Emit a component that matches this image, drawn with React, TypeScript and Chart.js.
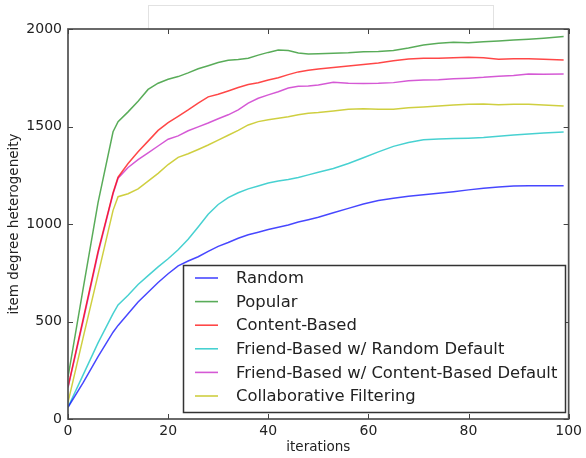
import React, { useEffect, useRef } from "react";
import Chart from "chart.js/auto";

const iterations = [0, 3, 6, 9, 10, 12, 14, 16, 18, 20, 22, 24, 26, 28, 30, 32, 34, 36, 38, 40, 42, 44, 46, 48, 50, 53, 56, 59, 62, 65, 68, 71, 74, 77, 80, 83, 86, 89, 92, 95, 99];

const randomVals = [60, 185, 320, 445, 480, 540, 600, 650, 700, 745, 785, 810, 832, 860, 885, 905, 927, 945, 958, 972, 983, 995, 1010, 1022, 1035, 1058, 1080, 1103, 1120, 1132, 1142, 1150, 1158, 1166, 1175, 1183, 1190, 1195, 1196, 1196, 1196];
const popularVals = [215, 665, 1110, 1473, 1525, 1575, 1630, 1690, 1722, 1742, 1756, 1775, 1796, 1812, 1828, 1840, 1843, 1850, 1866, 1880, 1892, 1890, 1877, 1872, 1873, 1876, 1878, 1883, 1885, 1890, 1903, 1918, 1927, 1932, 1930, 1934, 1939, 1944, 1948, 1953, 1961];
const contentVals = [165, 510, 860, 1160, 1240, 1310, 1370, 1425, 1480, 1520, 1552, 1585, 1620, 1652, 1665, 1682, 1700, 1715, 1724, 1738, 1750, 1766, 1780, 1788, 1795, 1803, 1810, 1818, 1826, 1837, 1846, 1850, 1850, 1852, 1855, 1852, 1845, 1848, 1847, 1845, 1841];
const friendRandomVals = [60, 225, 390, 540, 585, 635, 690, 735, 780, 822, 868, 922, 985, 1050, 1100, 1135, 1160, 1180, 1195, 1210, 1220, 1228, 1238, 1252, 1265, 1285, 1310, 1340, 1370, 1398, 1418, 1432, 1436, 1438, 1440, 1443, 1450, 1457, 1462, 1467, 1472];
const friendContentVals = [160, 500, 850, 1155, 1235, 1290, 1330, 1365, 1400, 1435, 1452, 1478, 1498, 1518, 1540, 1560, 1585, 1620, 1645, 1662, 1678, 1697, 1706, 1708, 1713, 1727, 1722, 1721, 1722, 1725, 1735, 1738, 1740, 1745, 1748, 1752, 1758, 1762, 1769, 1768, 1769];
const collabVals = [85, 415, 740, 1070, 1140, 1155, 1180, 1220, 1260, 1305, 1342, 1360, 1382, 1405, 1430, 1455, 1480, 1508, 1525, 1535, 1542, 1550, 1560, 1568, 1572, 1580, 1588, 1591, 1588, 1588, 1596, 1600, 1605, 1610, 1614, 1615, 1612, 1614, 1614, 1610, 1605];

const seriesLabels = [
  "Random",
  "Popular",
  "Content-Based",
  "Friend-Based w/ Random Default",
  "Friend-Based w/ Content-Based Default",
  "Collaborative Filtering",
];
const seriesValues = [randomVals, popularVals, contentVals, friendRandomVals, friendContentVals, collabVals];
const seriesColors = [
  "rgba(0,0,255,0.72)",
  "rgba(0,128,0,0.65)",
  "rgba(255,0,0,0.72)",
  "rgba(0,191,191,0.72)",
  "rgba(191,0,191,0.65)",
  "rgba(191,191,0,0.75)",
];

const xTicks = [0, 20, 40, 60, 80, 100];
const yTicks = [0, 500, 1000, 1500, 2000];

const FONT = "'DejaVu Sans', sans-serif";

const framePlugin = {
  id: "framePlugin",
  beforeDraw(chart: any) {
    const ctx = chart.ctx;
    ctx.save();
    ctx.fillStyle = "#ffffff";
    ctx.fillRect(0, 0, chart.width, chart.height);
    ctx.strokeStyle = "#e2e2e2";
    ctx.lineWidth = 1;
    ctx.strokeRect(148.5, 5.5, 345, 24);
    ctx.restore();
  },
  afterDatasetsDraw(chart: any) {
    const ctx = chart.ctx;
    const a = chart.chartArea;
    const xs = chart.scales.x;
    const ys = chart.scales.y;
    ctx.save();
    // frame
    ctx.strokeStyle = "#505050";
    ctx.lineWidth = 1.7;
    ctx.strokeRect(a.left, a.top, a.right - a.left, a.bottom - a.top);
    // inward ticks
    ctx.lineWidth = 1;
    ctx.strokeStyle = "#444444";
    ctx.beginPath();
    for (const t of xTicks) {
      const px = Math.round(xs.getPixelForValue(t)) + 0.5;
      ctx.moveTo(px, a.bottom);
      ctx.lineTo(px, a.bottom - 5);
      ctx.moveTo(px, a.top);
      ctx.lineTo(px, a.top + 5);
    }
    for (const t of yTicks) {
      const py = Math.round(ys.getPixelForValue(t)) + 0.5;
      ctx.moveTo(a.left, py);
      ctx.lineTo(a.left + 5, py);
      ctx.moveTo(a.right, py);
      ctx.lineTo(a.right - 5, py);
    }
    ctx.stroke();

    // legend
    const lx = 183.5, ly = 265.5, lw = 382, lh = 147;
    ctx.fillStyle = "#ffffff";
    ctx.fillRect(lx, ly, lw, lh);
    ctx.strokeStyle = "#333333";
    ctx.lineWidth = 1.5;
    ctx.strokeRect(lx, ly, lw, lh);
    ctx.font = `16.4px ${FONT}`;
    ctx.textBaseline = "middle";
    ctx.textAlign = "left";
    chart.data.datasets.forEach((ds: any, i: number) => {
      const y = 278 + i * 23.6;
      ctx.strokeStyle = ds.borderColor;
      ctx.lineWidth = 1.6;
      ctx.beginPath();
      ctx.moveTo(195, y);
      ctx.lineTo(218, y);
      ctx.stroke();
      ctx.fillStyle = "#222222";
      ctx.fillText(ds.label, 236, y + 1);
    });
    ctx.restore();
  },
};

export default function App() {
  const canvasRef = useRef<HTMLCanvasElement | null>(null);

  useEffect(() => {
    document.body.style.margin = "0";
    const canvas = canvasRef.current;
    if (!canvas) return;
    const chart = new Chart(canvas, {
      type: "line",
      data: {
        datasets: seriesLabels.map((label, i) => ({
          label,
          data: iterations.map((x, j) => ({ x, y: seriesValues[i][j] })),
          borderColor: seriesColors[i],
          backgroundColor: seriesColors[i],
          borderWidth: 1.5,
          pointRadius: 0,
          tension: 0,
          fill: false,
        })),
      },
      options: {
        responsive: false,
        animation: false,
        events: [],
        layout: { padding: { left: 0, right: 13, top: 29, bottom: 0 } },
        plugins: {
          legend: { display: false },
          tooltip: { enabled: false },
          title: { display: false },
        },
        scales: {
          x: {
            type: "linear",
            min: 0,
            max: 100,
            grid: { display: false, drawTicks: false },
            border: { display: false },
            ticks: {
              stepSize: 20,
              padding: 4,
              color: "#222222",
              font: { family: FONT, size: 14 },
              callback: (v: any) => String(v),
            },
            title: {
              display: true,
              text: "iterations",
              color: "#222222",
              font: { family: FONT, size: 13.5 },
              padding: { top: 0, bottom: 2 },
            },
            afterFit: (s: any) => {
              s.height = 39;
            },
          },
          y: {
            type: "linear",
            min: 0,
            max: 2000,
            grid: { display: false, drawTicks: false },
            border: { display: false },
            ticks: {
              stepSize: 500,
              padding: 6,
              color: "#222222",
              font: { family: FONT, size: 14 },
              callback: (v: any) => String(v),
            },
            title: {
              display: true,
              text: "item degree heterogeneity",
              color: "#222222",
              font: { family: FONT, size: 13.5 },
              padding: { top: 6, bottom: 0 },
            },
            afterFit: (s: any) => {
              s.width = 68;
            },
          },
        },
      },
      plugins: [framePlugin],
    });
    return () => chart.destroy();
  }, []);

  return (
    <div style={{ position: "absolute", left: 0, top: 0, width: 586, height: 458 }}>
      <canvas ref={canvasRef} width={586} height={458} style={{ width: 586, height: 458 }} />
    </div>
  );
}
